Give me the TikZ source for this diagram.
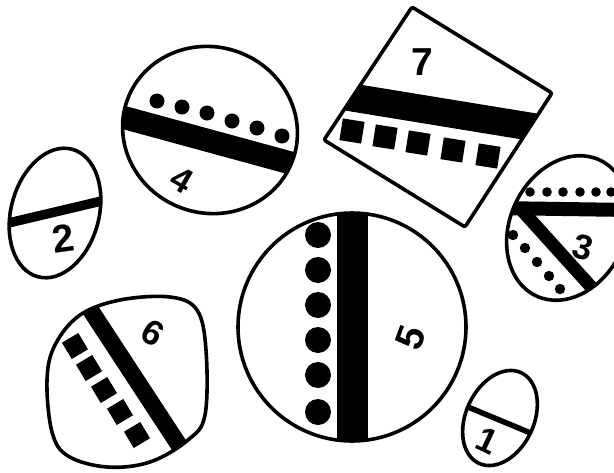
\documentclass[tikz,border=0pt]{standalone}
\usepackage{fontspec}
\setsansfont{Liberation Sans}
\usepackage{tikz}
\usetikzlibrary{calc}
\tikzset{
  outline/.style={draw=black, line width=3.6pt, line join=round},
  bandline/.style={draw=black, line width=#1},
  digit/.style={font=\sffamily\bfseries\fontsize{35}{35}\selectfont, inner sep=0pt},
  bigdigit/.style={digit, font=\sffamily\bfseries\fontsize{39}{39}\selectfont}
}

\begin{document}
\begin{tikzpicture}[x=1pt, y=-1pt]
  \clip (0,0) rectangle (614,472);

  % piece 2
  \begin{scope}
    \clip[rotate around={-15:(55,213)}] (55,213) ellipse [x radius=44, y radius=66];
    \draw[bandline=9.5pt] (0,225) -- (110,199);
  \end{scope}
  \draw[outline, rotate around={-15:(55,213)}] (55,213) ellipse [x radius=44, y radius=66];
  \node[bigdigit, rotate=8] (n2) at (63,239) {2};

  % piece 4
  \begin{scope}
    \clip[rotate around={-20:(210,130)}] (210,130) ellipse [x radius=88, y radius=83];
    \draw[bandline=23pt] (100,111) -- (320,171);
  \end{scope}
  \foreach \x/\y in {157/101,182/107,207/113,232/121,257/128,282/136}
    \fill (\x,\y) circle [radius=7.5];
  \draw[outline, rotate around={-20:(210,130)}] (210,130) ellipse [x radius=88, y radius=83];
  \node[digit, rotate=-30] (n4) at (182,180) {4};

  % piece 7
  \begin{scope}
    \clip (412,7) -- (552,93) -- (465,227) -- (324,140) -- cycle;
    \draw[bandline=28pt] (300,89) -- (600,138);
  \end{scope}
  \foreach \x/\y in {352/131,385/137,418/143,453/150,488/156}
    \fill[rotate around={-9:(\x,\y)}] (\x-11,\y-11) rectangle (\x+11,\y+11);
  \draw[outline, rounded corners=2pt] (412,7) -- (552,93) -- (465,227) -- (324,140) -- cycle;
  \node[bigdigit] (n7) at (422,62) {7};

  % piece 3
  \begin{scope}
    \clip[rotate around={-25:(568,228)}] (568,228) ellipse [x radius=58, y radius=75];
    \draw[bandline=14pt] (495,208) -- (630,210);
    \draw[bandline=13pt] (518,206) -- (603,300);
  \end{scope}
  \foreach \x in {530,547,563,580,596,611}
    \fill (\x,192) circle [radius=4.8];
  \foreach \x/\y in {513/235,525/248,537/262,549/276,560/289}
    \fill (\x,\y) circle [radius=5.2];
  \draw[outline, rotate around={-25:(568,228)}] (568,228) ellipse [x radius=58, y radius=75];
  \node[digit, rotate=-15] (n3) at (583,247) {3};

  % piece 6
  \begin{scope}
    \clip plot[smooth cycle, tension=0.6] coordinates {(120,300) (170,297) (197,310) (206,350)
      (205,415) (188,440) (150,462) (107,467) (68,456) (52,432) (47,380) (55,345) (80,315)};
    \draw[bandline=17pt] (82,297) -- (190,462);
  \end{scope}
  \foreach \x/\y in {75/346,89/368,104/390,120/412,137/435}
    \fill[rotate around={31:(\x,\y)}] (\x-9.5,\y-9.5) rectangle (\x+9.5,\y+9.5);
  \draw[outline] plot[smooth cycle, tension=0.6] coordinates {(120,300) (170,297) (197,310) (206,350)
      (205,415) (188,440) (150,462) (107,467) (68,456) (52,432) (47,380) (55,345) (80,315)};
  \node[digit, rotate=-30] (n6) at (153,333) {6};

  % piece 5
  \begin{scope}
    \clip (352,327) circle [radius=114];
    \draw[bandline=31pt] (352.5,200) -- (352.5,460);
  \end{scope}
  \foreach \y in {235,270,305,340,375,412}
    \fill (318,\y) circle [radius=13];
  \draw[outline] (352,327) circle [radius=114];
  \node[bigdigit, rotate=70] (n5) at (411,338) {5};

  % piece 1
  \begin{scope}
    \clip[rotate around={-25:(500,418)}] (500,418) ellipse [x radius=34, y radius=50];
    \draw[bandline=5.5pt] (455,401.6) -- (545,439);
  \end{scope}
  \draw[outline, rotate around={-25:(500,418)}] (500,418) ellipse [x radius=34, y radius=50];
  \node[digit, rotate=-25] (n1) at (487,441) {1};
\end{tikzpicture}
\end{document}
